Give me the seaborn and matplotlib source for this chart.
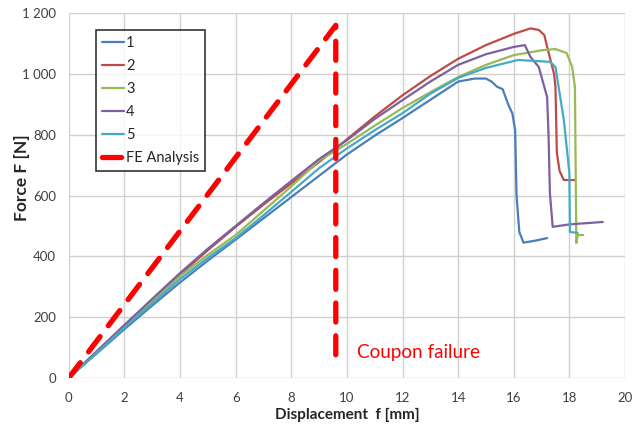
import numpy as np
import pandas as pd
import matplotlib
matplotlib.use("Agg")
import matplotlib.pyplot as plt
import seaborn as sns
from matplotlib.ticker import FuncFormatter

# ---------------- data ----------------

x1 = [0, 1, 2, 3, 4, 5, 6, 7, 8, 9, 10, 11, 12, 13, 14, 14.6, 15.0, 15.2, 15.4, 15.6, 15.8, 15.95, 16.05, 16.1, 16.2, 16.35, 16.8, 17.2]
y1 = [0, 80, 160, 238, 314, 386, 455, 525, 595, 665, 735, 797, 855, 915, 975, 985, 985, 975, 958, 950, 900, 870, 815, 600, 480, 445, 452, 460]

x2 = [0, 1, 2, 3, 4, 5, 6, 7, 8, 9, 10, 11, 12, 13, 14, 15, 16, 16.6, 16.9, 17.1, 17.2, 17.45, 17.5, 17.55, 17.65, 17.8, 18.2]
y2 = [0, 86, 172, 256, 340, 420, 497, 570, 640, 710, 785, 860, 930, 993, 1050, 1095, 1132, 1150, 1145, 1128, 1089, 1000, 957, 740, 680, 651, 651]

x3 = [0, 1, 2, 3, 4, 5, 6, 7, 8, 9, 10, 11, 12, 13, 14, 15, 16, 17, 17.5, 17.9, 18.1, 18.2, 18.25, 18.3, 18.5]
y3 = [0, 84, 168, 252, 335, 405, 470, 550, 630, 715, 770, 830, 888, 940, 990, 1030, 1062, 1078, 1082, 1069, 1023, 957, 444, 470, 470]

x4 = [0, 1, 2, 3, 4, 5, 6, 7, 8, 9, 10, 11, 12, 13, 14, 15, 16, 16.4, 16.6, 16.9, 17.2, 17.25, 17.3, 17.4, 18.0, 19.2]
y4 = [0, 87, 174, 260, 345, 425, 500, 575, 648, 720, 782, 852, 914, 975, 1030, 1065, 1089, 1095, 1056, 1023, 924, 800, 608, 497, 505, 513]

x5 = [0, 1, 2, 3, 4, 5, 6, 7, 8, 9, 10, 11, 12, 13, 14, 15, 16.15, 17.3, 17.5, 17.8, 18.0, 18.02, 18.3]
y5 = [0, 82, 165, 245, 325, 395, 460, 535, 612, 690, 755, 815, 871, 935, 987, 1020, 1046, 1040, 1023, 849, 674, 480, 477]

fe_x = [0, 9.6, 9.6]
fe_y = [0, 1160, 60]

series = ["1", "2", "3", "4", "5"]
colors = ["#4A7EBB", "#BE4B48", "#98B954", "#7D60A0", "#46AAC5"]

# ---------------- build table ----------------

frames = []
for name, xs, ys in zip(series, [x1, x2, x3, x4, x5], [y1, y2, y3, y4, y5]):
    frames.append(pd.DataFrame({"disp": xs, "force": ys, "test": name}))
df = pd.concat(frames, ignore_index=True)

# ---------------- plot ----------------

sns.set_style("white")
plt.rcParams["font.family"] = ["Lato", "DejaVu Sans"]

fig = plt.figure(figsize=(6.43, 4.26), dpi=100)
ax = fig.add_axes([0.107, 0.113, 0.865, 0.856])

sns.lineplot(data=df, x="disp", y="force", hue="test", palette=colors,
             sort=False, estimator=None, linewidth=1.6, ax=ax)

ax.plot(fe_x, fe_y, color="#FF0000", linewidth=3.8,
        linestyle=(0, (3.6, 2.6)), dash_capstyle="round",
        label="FE Analysis")

ax.text(10.36, 82, "Coupon failure", color="#FF0000", fontsize=13.6,
        va="center", ha="left")

ax.set_xlim(0, 20)
ax.set_ylim(0, 1200)
ax.set_xticks(np.arange(0, 21, 2))
ax.set_yticks(np.arange(0, 1201, 200))
ax.yaxis.set_major_formatter(FuncFormatter(lambda v, p: f"{int(v):,}".replace(",", " ")))
ax.tick_params(labelsize=9.5, labelcolor="#404040", color="#D0D0D0",
               length=3, width=1)
ax.tick_params(axis="x", pad=7)
ax.tick_params(axis="y", pad=6)
ax.grid(True, color="#D0D0D0", linewidth=1)
for s in ax.spines.values():
    s.set_visible(False)

ax.set_xlabel("Displacement  f [mm]", fontsize=11, fontweight="bold", va="center")
ax.set_ylabel("Force F [N]", fontsize=12.5, fontweight="bold", va="center")
ax.xaxis.set_label_coords(0.5, -0.101)
ax.yaxis.set_label_coords(-0.0845, 0.548)

leg = ax.legend(loc="upper left", bbox_to_anchor=(0.049, 0.953),
                borderaxespad=0, fontsize=10.5, frameon=True, fancybox=False,
                handlelength=1.5, handletextpad=0.15, labelspacing=0.62,
                borderpad=0.4)
leg.get_frame().set_edgecolor("black")
leg.get_frame().set_linewidth(1.2)

fig.savefig("out.png", dpi=100)
